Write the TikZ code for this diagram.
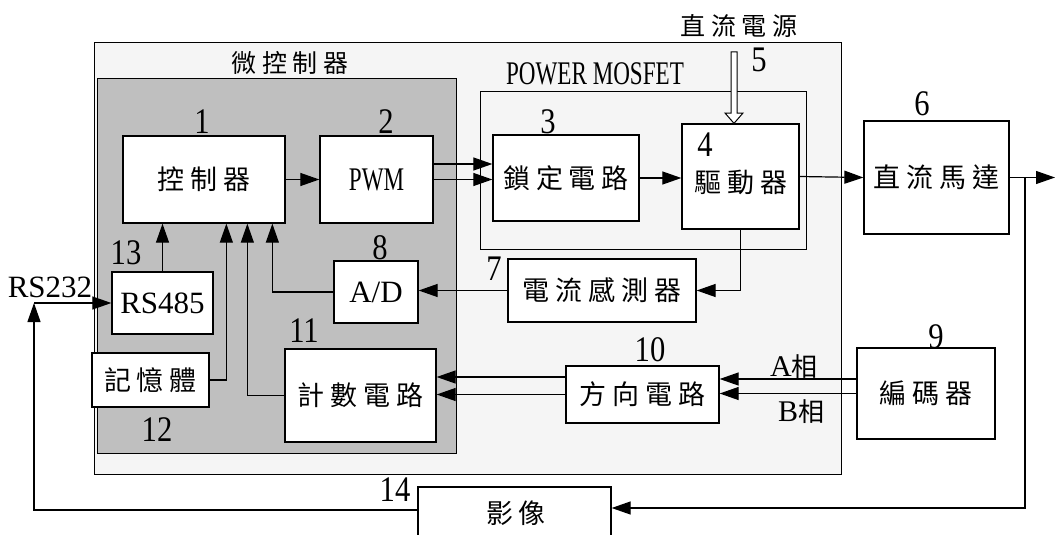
\documentclass[tikz,border=0pt]{standalone}
\usepackage{fontspec}
\setmainfont{Liberation Serif}
\newfontfamily\numfont[FakeStretch=0.85]{Liberation Serif}
\newfontfamily\narrowfont[FakeStretch=0.7]{Liberation Serif}
\newfontfamily\cjk[LetterSpace=22]{Noto Sans CJK TC}
\usetikzlibrary{arrows.meta,calc}
\begin{document}
\begin{tikzpicture}[x=1pt,y=-1pt,
  line width=1.2pt,
  arr/.style={-{Triangle[length=19pt,width=13pt]}},
  box/.style={draw,line width=1.3pt,fill=white,inner sep=0pt},
  cj/.style={font=\cjk\fontsize{27}{27}\selectfont},
  cjs/.style={font=\cjk\fontsize{25}{25}\selectfont},
  lat/.style={font=\fontsize{31}{31}\selectfont},
  num/.style={font=\numfont\fontsize{36}{36}\selectfont, inner sep=0pt},
]
\useasboundingbox (0,0) rectangle (1055,535);
\clip (0,0) rectangle (1055,535);

% container boxes
\node[box, fill=gray!8, line width=1pt, minimum width=747pt, minimum height=431pt] (board) at (467.5,258.5) {};
\node[box, fill=gray!50, line width=1pt, minimum width=359pt, minimum height=374pt] (mcu) at (276.5,266) {};
\node[box, fill=gray!8, line width=1pt, minimum width=326pt, minimum height=158pt] (mos) at (643,170) {};

% blocks
\node[box, cj, minimum width=162pt, minimum height=87pt] (ctrl) at (204,179.5) {控制器};
\node[box, minimum width=113pt, minimum height=87pt, font=\narrowfont\fontsize{33}{33}\selectfont] (pwm) at (376.5,179.5) {PWM};
\node[box, cj, minimum width=146pt, minimum height=86pt] (lock) at (566,178) {鎖定電路};
\node[box, minimum width=117pt, minimum height=105pt] (drv) at (740.5,176.5) {};
\node[cj] (drvt) at (741,182) {驅動器};
\node[box, cj, minimum width=145pt, minimum height=113pt] (motor) at (936.5,177.5) {直流馬達};
\node[box, lat, minimum width=84pt, minimum height=62pt] (ad) at (376,292) {A/D};
\node[box, cj, minimum width=188pt, minimum height=63pt] (cs) at (602,290.5) {電流感測器};
\node[box, lat, minimum width=101pt, minimum height=62pt] (rs485) at (162.5,303) {RS485};
\node[box, cj, minimum width=117pt, minimum height=54pt] (mem) at (150.5,380) {記憶體};
\node[box, cj, minimum width=151pt, minimum height=93pt] (cnt) at (360.5,395.5) {計數電路};
\node[box, cj, minimum width=153pt, minimum height=57pt] (dir) at (642.5,394.5) {方向電路};
\node[box, cj, minimum width=138pt, minimum height=91pt] (enc) at (926,393.5) {編碼器};
\node[box, minimum width=193pt, minimum height=58pt] (img) at (514.5,516) {};
\node[cj] (imgt) at (516,513) {影像};

% titles and labels
\node[cjs] (tmcu) at (290,63) {微控制器};
\node[font=\narrowfont\fontsize{33}{33}\selectfont] (tmos) at (595,74) {POWER MOSFET};
\node[cjs] (tdc) at (739,26) {直流電源};
\node[lat] (trs232) at (50,287) {RS232};
\node[font=\fontsize{30}{30}\selectfont] (tA) at (794,367) {A{\cjk\fontsize{26}{26}\selectfont 相}};
\node[font=\fontsize{30}{30}\selectfont] (tB) at (801,412) {B{\cjk\fontsize{26}{26}\selectfont 相}};

% numbers
\node[num] (n1) at (202,122) {1};
\node[num] (n2) at (386,122) {2};
\node[num] (n3) at (548,122) {3};
\node[num] (n4) at (705,145) {4};
\node[num] (n5) at (759,60) {5};
\node[num] (n6) at (922,104) {6};
\node[num] (n7) at (494,269) {7};
\node[num] (n8) at (380,248) {8};
\node[num] (n9) at (936,337) {9};
\node[num] (n10) at (650,350) {10};
\node[num] (n11) at (304,331) {11};
\node[num] (n12) at (157,430) {12};
\node[num] (n13) at (126,253) {13};
\node[num] (n14) at (395,490) {14};

% DC power hollow arrow
\coordinate (pw) at (734,52);
\draw[line width=1pt, fill=white] ($(pw)+(-3,0)$) -- ($(pw)+(3,0)$) -- ($(pw)+(3,61)$) -- ($(pw)+(9,61)$)
  -- (drv.north -| pw) -- ($(pw)+(-9,61)$) -- ($(pw)+(-3,61)$) -- cycle;

% connectors
\draw[arr] (ctrl.east) -- (pwm.west);
\path ([yshift=15.5pt]pwm.east) coordinate (p1);
\draw[arr] (p1) -- (p1 -| lock.west);
\draw[arr] (pwm.east) -- (pwm.east -| lock.west);
\draw[arr] (lock.east) -- (lock.east -| drv.west);
\draw[arr] (drv.east) -- (motor.west);
\coordinate (out) at (1055,177.5);
\draw[arr] (motor.east) -- (out);
\coordinate (br) at (1025,177.5);
\coordinate (br2) at (1025,508);
\draw[arr] (br) -- (br2) -- (img.east |- br2);

\draw[arr] (drv.south) |- (cs.east);
\draw[arr] (cs.west) -- (cs.west -| ad.east);
\draw[arr] (ad.west) -| ($(ctrl.south west)+(150,0)$);
\draw[arr] (cnt.west) -| ($(ctrl.south west)+(125,0)$);
\draw[arr] (mem.east) -| ($(ctrl.south west)+(104,0)$);
\draw[arr] (rs485.north) -- (rs485.north |- ctrl.south);

\coordinate (bl) at (34,510);
\coordinate (rsj) at (34,303);
\draw[arr] (img.west |- bl) -| (rsj);
\draw[arr] (rsj) -- (rs485.west);

\path ([yshift=17.5pt]dir.west) coordinate (d1);
\draw[arr] (d1) -- (d1 -| cnt.east);
\draw[arr] (dir.west) -- (dir.west -| cnt.east);
\path ([yshift=14.5pt]enc.west) coordinate (e1);
\draw[arr] (e1) -- (e1 -| dir.east);
\draw[arr] (enc.west) -- (enc.west -| dir.east);
\end{tikzpicture}
\end{document}
